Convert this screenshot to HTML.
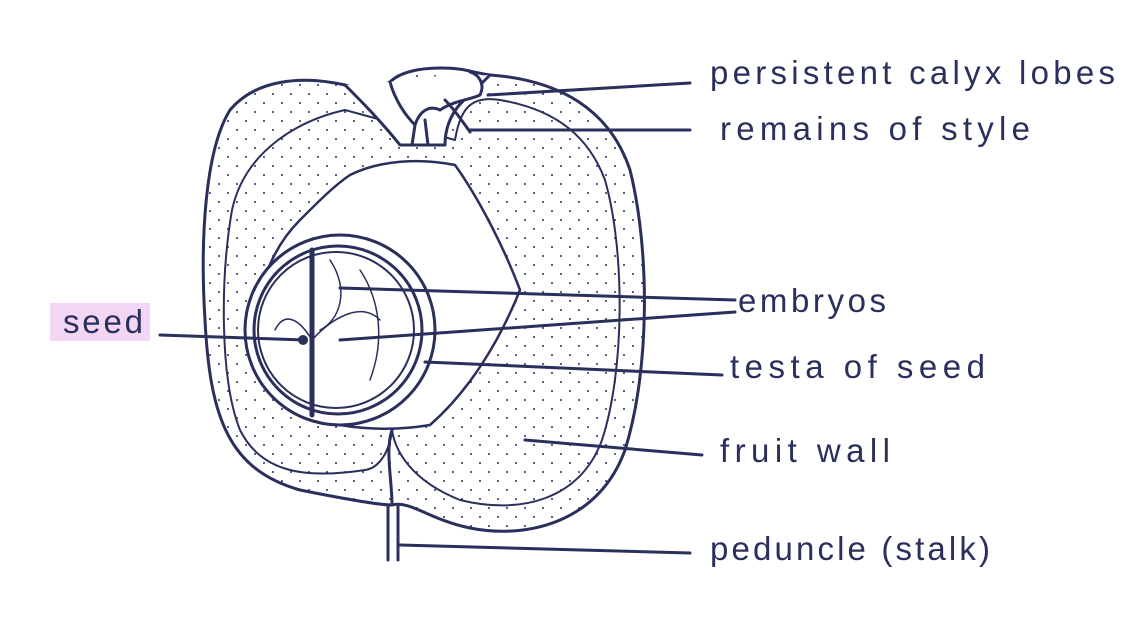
<!DOCTYPE html>
<html><head><meta charset="utf-8"><style>
html,body{margin:0;padding:0;background:#fff;}
svg{display:block;}
text{font-family:"Liberation Sans",sans-serif;fill:#2a2f5c;font-size:33px;}
</style></head><body>
<svg width="1136" height="623" viewBox="0 0 1136 623" xmlns="http://www.w3.org/2000/svg">
<defs>
<pattern id="dots" width="18" height="18" patternUnits="userSpaceOnUse">
<circle cx="3" cy="4" r="1" fill="#2a2f5c"/><circle cx="12" cy="13" r="1" fill="#2a2f5c"/>
</pattern>
</defs>
<rect x="50" y="303" width="100" height="38" fill="#f3d6f3"/>
<g fill="none" stroke="#2a2f5c" stroke-width="3" stroke-linecap="round" stroke-linejoin="round">
<path d="M345 85 C300 75 255 80 230 110 C205 150 200 240 205 320 C210 420 230 470 300 490 C350 500 380 505 392 505 C410 500 430 520 470 528 C530 540 600 520 625 450 C650 370 650 250 630 170 C610 110 560 80 490 75 C470 72 465 68 440 68 C420 68 400 72 390 82 C380 88 360 90 345 85 Z" fill="url(#dots)"/>
<path d="M345 110 C300 120 245 150 232 210 C220 280 220 380 240 430 C260 470 300 480 365 470 C380 468 390 450 392 430 C395 450 410 480 460 500 C520 515 580 500 602 440 C625 370 625 250 605 180 C590 140 560 110 500 100 C470 95 460 110 455 140 Z" fill="none" stroke-width="2"/>
<path d="M350 175 C380 160 420 158 455 165 C480 200 505 250 520 290 C500 340 470 390 430 425 C400 430 370 430 340 425 C300 420 270 390 260 350 C250 300 270 250 300 220 C320 200 335 185 350 175 Z" fill="#fff" stroke-width="2.5"/>
<path d="M345 85 C360 100 380 120 400 145 L445 145 C445 130 450 110 470 95 L490 75" fill="#fff"/>
<path d="M390 82 C395 100 405 115 415 125 C420 110 430 105 440 110 C455 100 470 100 480 95 C485 85 480 75 470 72" fill="#fff"/>
<path d="M415 125 L412 145 M425 120 L428 145"/>
<path d="M445 100 C455 110 465 125 470 132" />
<circle cx="340" cy="330" r="95" fill="#fff"/>
<circle cx="338" cy="330" r="84"/>
<circle cx="336" cy="330" r="78" stroke-width="2"/>
<path d="M312 250 L312 415" stroke-width="5"/>
<path d="M312 340 C330 320 360 300 380 320 M330 260 C350 290 340 320 320 330 M360 270 C380 300 385 340 370 380 M312 340 C300 320 285 310 275 330" stroke-width="1.5"/>
<path d="M392 430 C385 450 392 480 392 505"/>
<path d="M388 505 L388 560 M398 505 L398 560"/>
<path d="M488 95 L690 83"/>
<path d="M470 130 L690 130"/>
<path d="M340 288 L735 300"/>
<path d="M340 340 L735 312"/>
<path d="M425 362 L722 375"/>
<path d="M525 440 L702 455"/>
<path d="M400 545 L690 553"/>
<path d="M160 335 L305 340"/>
</g>
<circle cx="303" cy="340" r="5" fill="#2a2f5c"/>
<text x="710" y="84" textLength="405" lengthAdjust="spacing">persistent calyx lobes</text>
<text x="720" y="140" textLength="310" lengthAdjust="spacing">remains of style</text>
<text x="738" y="312" textLength="148" lengthAdjust="spacing">embryos</text>
<text x="730" y="378" textLength="255" lengthAdjust="spacing">testa of seed</text>
<text x="720" y="462" textLength="170" lengthAdjust="spacing">fruit wall</text>
<text x="710" y="560" textLength="280" lengthAdjust="spacing">peduncle (stalk)</text>
<text x="63" y="333" textLength="80" lengthAdjust="spacing">seed</text>
</svg>
</body></html>
